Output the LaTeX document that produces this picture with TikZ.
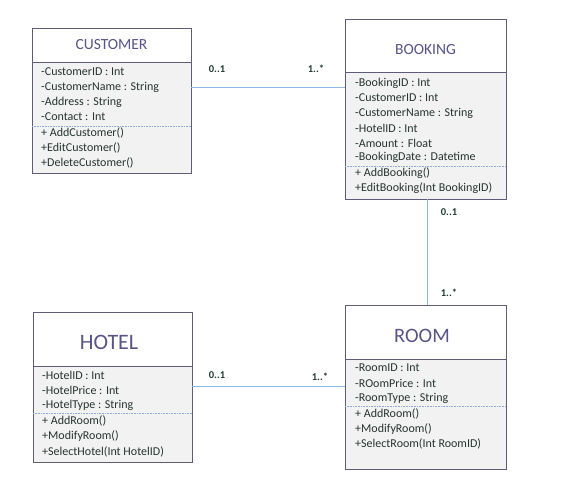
\documentclass[tikz,border=0pt]{standalone}
\usepackage{fontspec}
\setmainfont{Carlito}
\usetikzlibrary{calc}
\definecolor{bordc}{HTML}{5E5C78}
\definecolor{titc}{HTML}{585388}
\definecolor{txtc}{HTML}{26342F}
\definecolor{linec}{HTML}{8EB8E2}
\definecolor{sepc}{HTML}{8FAADC}
\definecolor{bodyc}{HTML}{F2F2F2}
\definecolor{multc}{HTML}{1F3A33}
\tikzset{
  x=1pt,y=-1pt,
  classbox/.style={draw=bordc,line width=0.8pt,fill=bodyc,inner sep=0pt},
  headbox/.style={draw=bordc,line width=0.8pt,fill=white,inner sep=0pt},
  sepline/.style={draw=sepc,line width=0.6pt,densely dotted},
  attr/.style={anchor=west,inner sep=0pt,text=txtc,font=\fontsize{12}{14}\selectfont},
  title/.style={inner sep=0pt,text=titc},
  assoc/.style={draw=linec,line width=0.9pt},
  mult/.style={inner sep=0pt,text=multc,font=\fontsize{10.5}{12}\selectfont\bfseries}
}
\begin{document}
\begin{tikzpicture}
\useasboundingbox (0,0) rectangle (578,502);
% CUSTOMER
\node[classbox,minimum width=159pt,minimum height=145pt] (cust) at (111.5,100.5) {};
\draw[headbox] (32,28) rectangle (191,62);
\draw[sepline] (32,126) -- (191,126);
\node[title,font=\fontsize{15.5}{18}\selectfont] (custt) at (111.5,45) {CUSTOMER};
\node[attr] (c1) at (41,72) {-CustomerID : Int};
\node[attr] (c2) at (41,87) {-CustomerName : String};
\node[attr] (c3) at (41,102) {-Address : String};
\node[attr] (c4) at (41,117) {-Contact : Int};
\node[attr] (c5) at (41,133) {+ AddCustomer()};
\node[attr] (c6) at (41,148) {+EditCustomer()};
\node[attr] (c7) at (41,163) {+DeleteCustomer()};
% BOOKING
\node[classbox,minimum width=161pt,minimum height=180pt] (book) at (425.5,109) {};
\draw[headbox] (345,19) rectangle (506,72);
\draw[sepline] (345,166) -- (506,166);
\node[title,font=\fontsize{15.5}{18}\selectfont] (bookt) at (425.5,50) {BOOKING};
\node[attr] (b1) at (355,83) {-BookingID : Int};
\node[attr] (b2) at (355,98) {-CustomerID : Int};
\node[attr] (b3) at (355,113) {-CustomerName : String};
\node[attr] (b4) at (355,128) {-HotelID : Int};
\node[attr] (b5) at (355,143) {-Amount : Float};
\node[attr] (b6) at (355,157) {-BookingDate : Datetime};
\node[attr] (b7) at (355,173) {+ AddBooking()};
\node[attr] (b8) at (355,188) {+EditBooking(Int BookingID)};
% HOTEL
\node[classbox,minimum width=159pt,minimum height=150pt] (hotel) at (112.5,387) {};
\draw[headbox] (33,312) rectangle (192,366);
\draw[sepline] (33,413) -- (192,413);
\node[title,font=\fontsize{22}{25}\selectfont] (hotelt) at (109,342) {HOTEL};
\node[attr] (h1) at (42,375) {-HotelID : Int};
\node[attr] (h2) at (42,390) {-HotelPrice : Int};
\node[attr] (h3) at (42,405) {-HotelType : String};
\node[attr] (h4) at (42,421) {+ AddRoom()};
\node[attr] (h5) at (42,436) {+ModifyRoom()};
\node[attr] (h6) at (42,452) {+SelectHotel(Int HotelID)};
% ROOM
\node[classbox,minimum width=161pt,minimum height=164pt] (room) at (425.5,387) {};
\draw[headbox] (345,305) rectangle (506,359);
\draw[sepline] (345,406) -- (506,406);
\node[title,font=\fontsize{20.5}{24}\selectfont] (roomt) at (422,336) {ROOM};
\node[attr] (r1) at (355,368) {-RoomID : Int};
\node[attr] (r2) at (355,383) {-ROomPrice : Int};
\node[attr] (r3) at (355,398) {-RoomType : String};
\node[attr] (r4) at (355,414) {+ AddRoom()};
\node[attr] (r5) at (355,429) {+ModifyRoom()};
\node[attr] (r6) at (355,444) {+SelectRoom(Int RoomID)};
% connectors
\draw[assoc] (cust.east |- 0,87) -- (book.west |- 0,87);
\draw[assoc] (hotel.east |- 0,386) -- (room.west |- 0,386);
\draw[assoc] (book.south -| 427,0) -- (room.north -| 427,0);
% multiplicities
\node[mult] (m1) at (217,69) {0..1};
\node[mult] (m2) at (316,69) {1..*};
\node[mult] (m3) at (217,375) {0..1};
\node[mult] (m4) at (320,377) {1..*};
\node[mult] (m5) at (449,212) {0..1};
\node[mult] (m6) at (449,293) {1..*};
\end{tikzpicture}
\end{document}
